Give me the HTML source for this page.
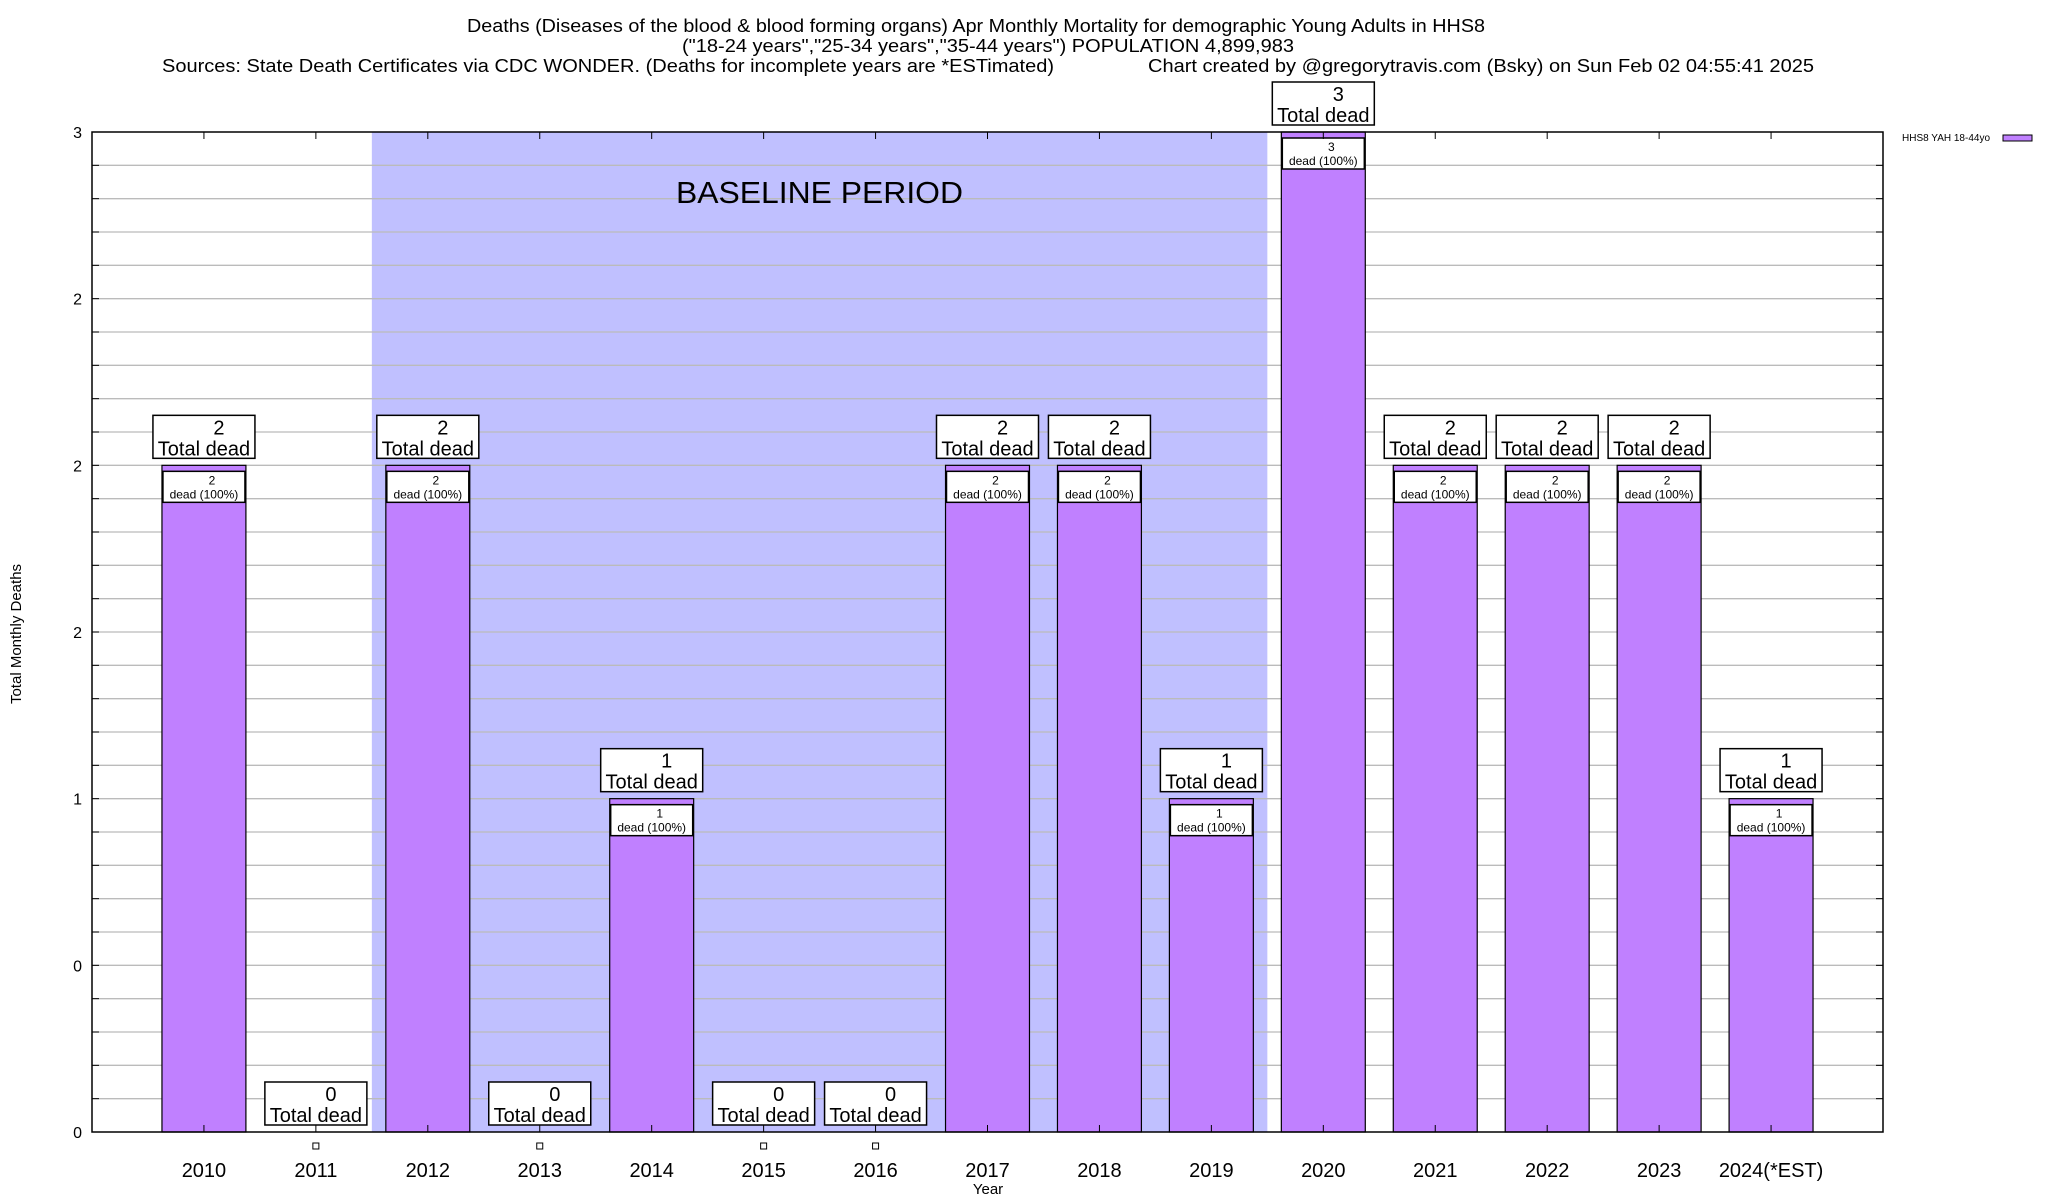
<!DOCTYPE html>
<html><head><meta charset="utf-8"><style>
html,body{margin:0;padding:0;background:#fff;}
svg{display:block;font-family:"Liberation Sans",sans-serif;}
</style></head><body>
<svg id="chart" width="2048" height="1200" viewBox="0 0 2048 1200" xmlns="http://www.w3.org/2000/svg">
<g>
<text x="976" y="32" font-size="18" text-anchor="middle" textLength="1018" lengthAdjust="spacingAndGlyphs">Deaths (Diseases of the blood &amp; blood forming organs) Apr Monthly Mortality for demographic Young Adults in HHS8</text>
<text x="988" y="52" font-size="18" text-anchor="middle" textLength="612" lengthAdjust="spacingAndGlyphs">("18-24 years","25-34 years","35-44 years") POPULATION 4,899,983</text>
<text x="162" y="72" font-size="18" textLength="892" lengthAdjust="spacingAndGlyphs">Sources: State Death Certificates via CDC WONDER. (Deaths for incomplete years are *ESTimated)</text>
<text x="1148" y="72" font-size="18" textLength="666" lengthAdjust="spacingAndGlyphs">Chart created by @gregorytravis.com (Bsky) on Sun Feb 02 04:55:41 2025</text>
</g>
<g id="plot"></g>
<text x="0" y="0" font-size="15" text-anchor="middle" transform="translate(21,634) rotate(-90)">Total Monthly Deaths</text>
<text x="988" y="1194" font-size="15" text-anchor="middle">Year</text>
<g>
<text x="1902" y="141" font-size="10">HHS8 YAH 18-44yo</text>
<rect x="2003" y="135" width="29" height="6" fill="#c080ff" stroke="#000" stroke-width="1"/>
</g>
</svg>
<script>
const categories = ["2010","2011","2012","2013","2014","2015","2016","2017","2018","2019","2020","2021","2022","2023","2024(*EST)"];
const deaths = [2,0,2,0,1,0,0,2,2,1,3,2,2,2,1];
const yTickValues = [0,0.5,1,1.5,2,2.5,3];
const yTickLabels = ["0","0","1","2","2","2","3"];
const baselineStart = 1.5;
const baselineEnd = 9.5;

const NS = "http://www.w3.org/2000/svg";
const L = 92, R = 1883, T = 132, B = 1132;
const xMin = -1, xMax = 15, yMin = 0, yMax = 3;
function xs(v){ return L + (v - xMin) / (xMax - xMin) * (R - L); }
function ys(v){ return B - (v - yMin) / (yMax - yMin) * (B - T); }
const plot = document.getElementById('plot');
function el(tag, attrs, parent){ const e = document.createElementNS(NS, tag); for (const k in attrs) e.setAttribute(k, attrs[k]); (parent||plot).appendChild(e); return e; }

const shade = el('rect', {x: xs(baselineStart), y: T, width: xs(baselineEnd) - xs(baselineStart), height: B - T, fill: '#c0c0ff'});



for (let i = 1; i < 30; i++) {
  const y = ys(i * 0.1);
  const g = el('line', {x1: L, x2: R, y1: y, y2: y, stroke: '#bbbbbb', 'stroke-width': 1.3});
  
  
  el('line', {x1: L, x2: L + 7, y1: y, y2: y, stroke: '#000', 'stroke-width': 1});
  el('line', {x1: R, x2: R - 7, y1: y, y2: y, stroke: '#000', 'stroke-width': 1});
}
const bl = el('text', {x: 676, y: 203, 'font-size': 31, textLength: 287, lengthAdjust: 'spacingAndGlyphs'});
bl.textContent = 'BASELINE PERIOD';



yTickValues.forEach((v, i) => {
  const t = el('text', {x: 82, y: ys(v) + 6, 'font-size': 16, 'text-anchor': 'end'});
  t.textContent = yTickLabels[i];
  
  
});

categories.forEach((c, i) => {
  const v = deaths[i];
  const cx = xs(i);
  const bw = 0.75 * (xs(1) - xs(0));
  if (v > 0) {
    const b = el('rect', {x: cx - bw/2, y: ys(v), width: bw, height: B - ys(v), fill: '#c080ff', stroke: '#000', 'stroke-width': 1.2});
    
    
    const ib = el('rect', {x: cx - 41, y: ys(v) + 6, width: 82, height: 31, fill: '#fff', stroke: '#000', 'stroke-width': 1.5});
    
    
    const t1 = el('text', {x: cx + 8, y: ys(v) + 19, 'font-size': 12, 'text-anchor': 'middle'});
    t1.textContent = v;
    const t2 = el('text', {x: cx, y: ys(v) + 33, 'font-size': 12, 'text-anchor': 'middle'});
    t2.textContent = 'dead (100%)';
  } else {
    const m = el('rect', {x: cx - 3, y: B + 11, width: 6, height: 6, fill: '#fff', stroke: '#000', 'stroke-width': 1});
    
    
  }
  el('line', {x1: cx, x2: cx, y1: B, y2: B - 7, stroke: '#000', 'stroke-width': 1});
  el('line', {x1: cx, x2: cx, y1: T, y2: T + 7, stroke: '#000', 'stroke-width': 1});
  const by = ys(v) - 7 - 43;
  const ob = el('rect', {x: cx - 51, y: by, width: 102, height: 43, fill: '#fff', stroke: '#000', 'stroke-width': 1.5});
  
  
  const o1 = el('text', {x: cx + 15, y: by + 19, 'font-size': 20, 'text-anchor': 'middle'});
  o1.textContent = v;
  const o2 = el('text', {x: cx, y: by + 40, 'font-size': 20, 'text-anchor': 'middle'});
  o2.textContent = 'Total dead';
  const xl = el('text', {x: cx, y: 1177, 'font-size': 20, 'text-anchor': 'middle'});
  xl.textContent = c;
  
  
});
const fr = el('rect', {x: L, y: T, width: R - L, height: B - T, fill: 'none', stroke: '#000', 'stroke-width': 1.5});


</script>
</body></html>
